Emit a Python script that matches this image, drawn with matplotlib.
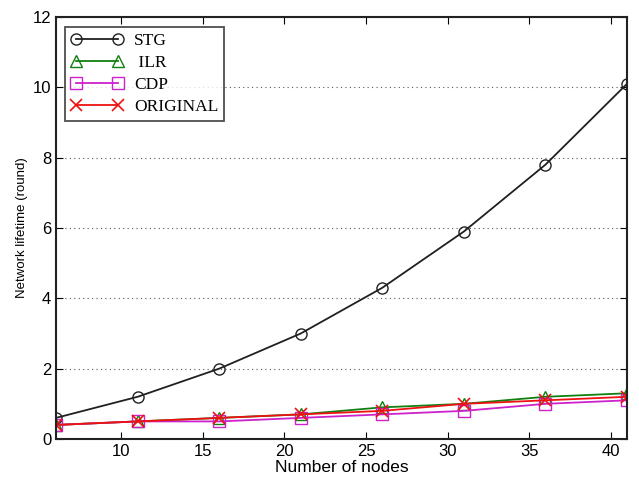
import matplotlib
matplotlib.use("Agg")
import matplotlib.pyplot as plt

nodes = [6, 11, 16, 21, 26, 31, 36, 41]
stg = [0.6, 1.2, 2.0, 3.0, 4.3, 5.9, 7.8, 10.1]
ilr = [0.4, 0.5, 0.6, 0.7, 0.9, 1.0, 1.2, 1.3]
cdp = [0.4, 0.5, 0.5, 0.6, 0.7, 0.8, 1.0, 1.1]
original = [0.4, 0.5, 0.6, 0.7, 0.8, 1.0, 1.1, 1.2]
labels = ["STG", " ILR", "CDP", "ORIGINAL"]

fig = plt.figure(figsize=(6.39, 4.82), dpi=100)
ax = fig.add_axes([56/639, 1-439/482, (627-56)/639, (439-17)/482])

lw = 1.3
ax.plot(nodes, stg, color="#202020", marker="o", ms=8, mfc="none", mew=1.0, lw=lw, label=labels[0])
ax.plot(nodes, ilr, color="#108010", marker="^", ms=8, mfc="none", mew=1.0, lw=lw, label=labels[1])
ax.plot(nodes, cdp, color="#cc22cc", marker="s", ms=8, mfc="none", mew=1.0, lw=lw, label=labels[2])
ax.plot(nodes, original, color="#ee1111", marker="x", ms=9, mew=1.2, lw=lw, label=labels[3])

ax.set_xlim(6, 41)
ax.set_ylim(0, 12)
ax.set_xticks([10, 15, 20, 25, 30, 35, 40])
ax.set_yticks([0, 2, 4, 6, 8, 10, 12])
ax.yaxis.grid(True, linestyle=(0, (1, 3)), color="#555555", lw=0.8)
ax.tick_params(direction="in", top=True, right=True, labelsize=12, length=5, width=0.8)
for lab in ax.get_xticklabels() + ax.get_yticklabels():
    lab.set_fontfamily("Liberation Sans")
for s in ax.spines.values():
    s.set_linewidth(1.5)
    s.set_color("#222222")

ax.set_xlabel("Number of nodes", fontsize=12.5, family="Liberation Sans", labelpad=1)
ax.set_ylabel("Network lifetime (round)", fontsize=9.5, family="Liberation Sans", labelpad=3)

leg = ax.legend(loc="upper left", bbox_to_anchor=(0.01, 0.985), prop={"family": "Liberation Serif", "size": 12.5},
                frameon=True, fancybox=False, edgecolor="#222222", numpoints=2, handlelength=3.0, handletextpad=0.6,
                labelspacing=0.33, borderpad=0.35, borderaxespad=0.2)
leg.get_frame().set_linewidth(1.3)

fig.savefig("out.png", dpi=100)
